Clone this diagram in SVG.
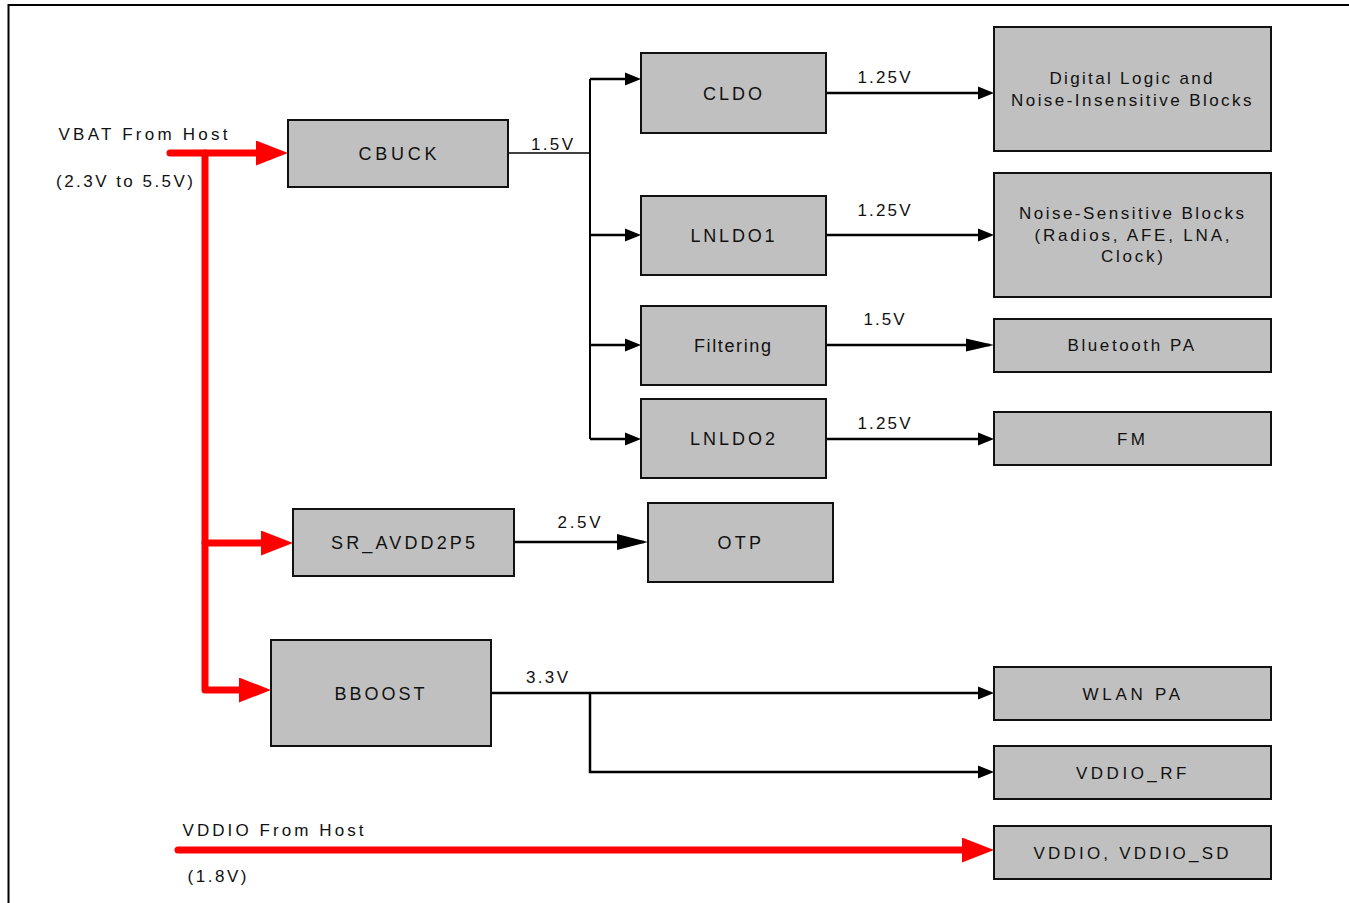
<svg xmlns="http://www.w3.org/2000/svg" width="1349" height="903" viewBox="0 0 1349 903">
  <style>
    .box { fill: #c0c0c0; stroke: #111; stroke-width: 2; }
    .t { font-family: "Liberation Sans", Arial, sans-serif; font-size: 17px; fill: #111; }
    .tb { font-family: "Liberation Sans", Arial, sans-serif; font-size: 18px; fill: #111; }
    .k { fill: none; stroke: #000; stroke-width: 2.5; }
    .kt { fill: none; stroke: #000; stroke-width: 1.5; }
    .r { fill: none; stroke: #ff0000; stroke-width: 7; stroke-linecap: round; stroke-linejoin: round; }
  </style>
  <defs>
    <marker id="ab" markerUnits="userSpaceOnUse" markerWidth="16" markerHeight="14" refX="12" refY="7" orient="auto">
      <path d="M0,0.5 L16,7 L0,13.5 z" fill="#000"/>
    </marker>
    <marker id="abl" markerUnits="userSpaceOnUse" markerWidth="28" markerHeight="14" refX="24" refY="7" orient="auto">
      <path d="M0,0.5 L28,7 L0,13.5 z" fill="#000"/>
    </marker>
    <marker id="abw" markerUnits="userSpaceOnUse" markerWidth="31" markerHeight="16" refX="27" refY="8" orient="auto">
      <path d="M0,0 L31,8 L0,16 z" fill="#000"/>
    </marker>
    <marker id="ar" markerUnits="userSpaceOnUse" markerWidth="32" markerHeight="25" refX="18" refY="12.5" orient="auto">
      <path d="M0,0 L32,12.5 L0,25 z" fill="#ff0000"/>
    </marker>
  </defs>

  <rect x="0" y="0" width="1349" height="903" fill="#fff"/>
  <path d="M8.5,903 V5 H1349" fill="none" stroke="#000" stroke-width="2"/>

  <g id="connectors">
    <!-- red supply lines -->
    <path class="r" d="M170,153 H274" marker-end="url(#ar)"/>
    <path class="r" d="M205,153 V690 H257" marker-end="url(#ar)"/>
    <path class="r" d="M205,543 H279" marker-end="url(#ar)"/>
    <path class="r" d="M178,850 H980" marker-end="url(#ar)"/>
    <!-- CBUCK distribution -->
    <path class="kt" d="M508,153 H590"/>
    <path class="k" d="M590,79 V439" style="stroke-width:2"/>
    <path class="k" d="M590,79 H637" marker-end="url(#ab)"/>
    <path class="k" d="M590,235 H637" marker-end="url(#ab)"/>
    <path class="k" d="M590,345 H637" marker-end="url(#ab)"/>
    <path class="k" d="M590,439 H637" marker-end="url(#ab)"/>
    <!-- regulator outputs -->
    <path class="k" d="M826,93 H990" marker-end="url(#ab)"/>
    <path class="k" d="M826,235 H990" marker-end="url(#ab)"/>
    <path class="k" d="M826,345 H990" marker-end="url(#abl)"/>
    <path class="k" d="M826,439 H990" marker-end="url(#ab)"/>
    <path class="k" d="M514,542 H644" marker-end="url(#abw)"/>
    <path class="k" d="M491,693 H990" marker-end="url(#ab)"/>
    <path class="k" d="M590,693 V772 H990" marker-end="url(#ab)"/>
    <!-- connector labels -->
    <text class="t" x="58.5" y="140" textLength="169" lengthAdjust="spacing">VBAT From Host</text>
    <text class="t" x="56" y="187" textLength="137" lengthAdjust="spacing">(2.3V to 5.5V)</text>
    <text class="t" x="531" y="150" textLength="42" lengthAdjust="spacing">1.5V</text>
    <text class="t" x="857.5" y="83" textLength="53" lengthAdjust="spacing">1.25V</text>
    <text class="t" x="857.5" y="216" textLength="53" lengthAdjust="spacing">1.25V</text>
    <text class="t" x="863.5" y="325" textLength="41" lengthAdjust="spacing">1.5V</text>
    <text class="t" x="857.5" y="429" textLength="53" lengthAdjust="spacing">1.25V</text>
    <text class="t" x="557.5" y="528" textLength="43" lengthAdjust="spacing">2.5V</text>
    <text class="t" x="526" y="683" textLength="42" lengthAdjust="spacing">3.3V</text>
    <text class="t" x="182.5" y="836" textLength="181" lengthAdjust="spacing">VDDIO From Host</text>
    <text class="t" x="187.5" y="882" textLength="59" lengthAdjust="spacing">(1.8V)</text>
  </g>

  <g id="cbuck">
    <rect class="box" x="288" y="120" width="220" height="67"/>
    <text class="tb" x="358.5" y="159.5" textLength="78" lengthAdjust="spacing">CBUCK</text>
  </g>
  <g id="cldo">
    <rect class="box" x="641" y="53" width="185" height="80"/>
    <text class="tb" x="703" y="99.5" textLength="59" lengthAdjust="spacing">CLDO</text>
  </g>
  <g id="lnldo1">
    <rect class="box" x="641" y="196" width="185" height="79"/>
    <text class="tb" x="690.5" y="241.5" textLength="84" lengthAdjust="spacing">LNLDO1</text>
  </g>
  <g id="filtering">
    <rect class="box" x="641" y="306" width="185" height="79"/>
    <text class="tb" x="694" y="351.5" textLength="77" lengthAdjust="spacing">Filtering</text>
  </g>
  <g id="lnldo2">
    <rect class="box" x="641" y="399" width="185" height="79"/>
    <text class="tb" x="690" y="444.5" textLength="85" lengthAdjust="spacing">LNLDO2</text>
  </g>
  <g id="digital">
    <rect class="box" x="994" y="27" width="277" height="124"/>
    <text class="t" x="1049.5" y="84" textLength="163" lengthAdjust="spacing">Digital Logic and</text>
    <text class="t" x="1011" y="105.5" textLength="240.5" lengthAdjust="spacing">Noise-Insensitive Blocks</text>
  </g>
  <g id="noise">
    <rect class="box" x="994" y="173" width="277" height="124"/>
    <text class="t" x="1019" y="219" textLength="225" lengthAdjust="spacing">Noise-Sensitive Blocks</text>
    <text class="t" x="1034.5" y="240.5" textLength="195" lengthAdjust="spacing">(Radios, AFE, LNA,</text>
    <text class="t" x="1101" y="262" textLength="62" lengthAdjust="spacing">Clock)</text>
  </g>
  <g id="btpa">
    <rect class="box" x="994" y="319" width="277" height="53"/>
    <text class="t" x="1067.5" y="351" textLength="126.5" lengthAdjust="spacing">Bluetooth PA</text>
  </g>
  <g id="fm">
    <rect class="box" x="994" y="412" width="277" height="53"/>
    <text class="t" x="1117" y="444.5" textLength="28" lengthAdjust="spacing">FM</text>
  </g>
  <g id="sr_avdd2p5">
    <rect class="box" x="293" y="509" width="221" height="67"/>
    <text class="tb" x="331" y="548.5" textLength="144" lengthAdjust="spacing">SR_AVDD2P5</text>
  </g>
  <g id="otp">
    <rect class="box" x="648" y="503" width="185" height="79"/>
    <text class="tb" x="717.5" y="548.5" textLength="43.5" lengthAdjust="spacing">OTP</text>
  </g>
  <g id="bboost">
    <rect class="box" x="271" y="640" width="220" height="106"/>
    <text class="tb" x="334.5" y="699.5" textLength="90" lengthAdjust="spacing">BBOOST</text>
  </g>
  <g id="wlanpa">
    <rect class="box" x="994" y="667" width="277" height="53"/>
    <text class="t" x="1082.5" y="699.5" textLength="97.5" lengthAdjust="spacing">WLAN PA</text>
  </g>
  <g id="vddio_rf">
    <rect class="box" x="994" y="746" width="277" height="53"/>
    <text class="t" x="1076" y="778.5" textLength="110.5" lengthAdjust="spacing">VDDIO_RF</text>
  </g>
  <g id="vddio_sd">
    <rect class="box" x="994" y="826" width="277" height="53"/>
    <text class="t" x="1033.5" y="858.5" textLength="195" lengthAdjust="spacing">VDDIO, VDDIO_SD</text>
  </g>
</svg>
